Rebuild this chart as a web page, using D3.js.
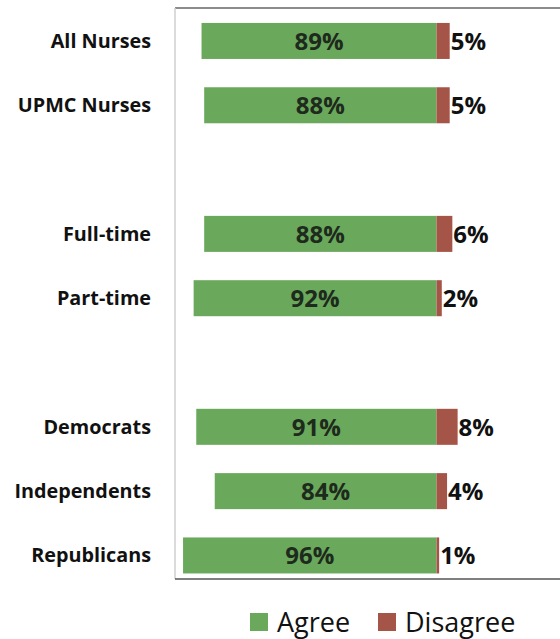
<!DOCTYPE html>
<html><head><meta charset="utf-8">
<script src="https://cdn.jsdelivr.net/npm/d3@7/dist/d3.min.js"></script>
<style>body{margin:0;background:#fff}svg{display:block}</style>
</head><body>
<svg id="c" width="560" height="639"></svg>
<script>
const categories = ["All Nurses","UPMC Nurses","Full-time","Part-time","Democrats","Independents","Republicans"];
const groups = [0,0,1,1,2,2,2];
const agree = [89,88,88,92,91,84,96];
const disagree = [5,5,6,2,8,4,1];
const seriesNames = ["Agree","Disagree"];
const colors = ["#6aa85c","#a55448"];

const svg = d3.select("#c");
const font = "'Open Sans', sans-serif";
const slots = categories.map((c,i)=>i+groups[i]);
const y = d3.scaleBand().domain(d3.range(9)).range([8.8,587.6]).paddingInner(0.44).paddingOuter(0.22);
const x = d3.scaleLinear().domain([-100,45]).range([172.5,555.3]);

// frame
svg.append("line").attr("x1",175).attr("x2",560).attr("y1",8).attr("y2",8).attr("stroke","#666").attr("stroke-width",1.5);
svg.append("line").attr("x1",175).attr("x2",175).attr("y1",8).attr("y2",579).attr("stroke","#cfcfcf").attr("stroke-width",1.5);
svg.append("line").attr("x1",175).attr("x2",560).attr("y1",579).attr("y2",579).attr("stroke","#555").attr("stroke-width",1.5);

const data = categories.map((c,i)=>({c,slot:slots[i],a:agree[i],d:disagree[i]}));
const g = svg.append("g");
g.selectAll("rect.a").data(data).join("rect").attr("class","a")
  .attr("x",d=>x(-d.a)).attr("width",d=>x(0)-x(-d.a))
  .attr("y",d=>y(d.slot)).attr("height",y.bandwidth()).attr("fill",colors[0]);
g.selectAll("rect.d").data(data).join("rect").attr("class","d")
  .attr("x",x(0)).attr("width",d=>x(d.d)-x(0))
  .attr("y",d=>y(d.slot)).attr("height",y.bandwidth()).attr("fill",colors[1]);
g.selectAll("text.av").data(data).join("text").attr("class","av")
  .attr("x",d=>(x(-d.a)+x(0))/2).attr("y",d=>y(d.slot)+y.bandwidth()/2+9)
  .attr("text-anchor","middle").attr("font-family",font).attr("font-weight",700).attr("font-size",24)
  .attr("fill","#1e2a1c").text(d=>d.a+"%");
g.selectAll("text.dv").data(data).join("text").attr("class","dv")
  .attr("x",d=>x(d.d)+1).attr("y",d=>y(d.slot)+y.bandwidth()/2+9)
  .attr("font-family",font).attr("font-weight",700).attr("font-size",24)
  .attr("fill","#111").text(d=>d.d+"%");
g.selectAll("text.cat").data(data).join("text").attr("class","cat")
  .attr("x",151).attr("y",d=>y(d.slot)+y.bandwidth()/2+7)
  .attr("text-anchor","end").attr("font-family",font).attr("font-weight",700).attr("font-size",19.8)
  .attr("fill","#111").text(d=>d.c);

// legend
const leg = svg.append("g");
const lx = [250,378];
seriesNames.forEach((n,i)=>{
  leg.append("rect").attr("x",lx[i]).attr("y",613).attr("width",18).attr("height",18).attr("fill",colors[i]);
  leg.append("text").attr("x",lx[i]+27).attr("y",632).attr("font-family",font).attr("font-size",27).attr("font-weight",500)
    .attr("fill","#111").text(n);
});
</script>
</body></html>
